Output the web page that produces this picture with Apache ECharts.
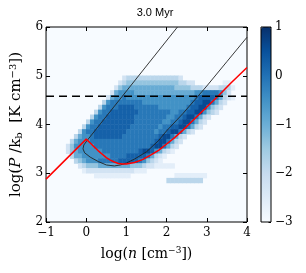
<!DOCTYPE html>
<html><head><meta charset="utf-8">
<script src="https://cdn.jsdelivr.net/npm/echarts@6/dist/echarts.min.js"></script>
<style>html,body{margin:0;padding:0;background:#fff}#c{width:306px;height:273px}</style>
</head><body><div id="c"></div>
<script>
// ---- data ----
const titleText = '3.0 Myr';
const xTicks = [-1, 0, 1, 2, 3, 4];
const yTicks = [2, 3, 4, 5, 6];
const cbTicks = [-3, -2, -1, 0, 1];
const xBinCount = 50;   // 0.1-wide bins in log n, from -1 to 4
const yBinCount = 40;   // 0.1-wide bins in log P/k, from 2 to 6
// colour level code -> log mass fraction value
const levelValues = [null, -2.6, -2.25, -1.85, -1.4, -0.95, -0.5, -0.1, 0.25, 0.6];
// [row index (y bin), first column (x bin), level codes]
const densityRows = [
  [29, 19, "2"+"3333333333333"+"2"],
  [28, 18, "2"+"3"+"4444444444444"+"33"+"22"],
  [28, 44, "11"],
  [27, 17, "2"+"4"+"5555555555555"+"4444"+"333"+"2222"+"333"+"1"],
  [26, 16, "2"+"5"+"6666"+"555555555555555"+"66"+"7777"+"6"+"4"+"2"],
  [25, 15, "2"+"5"+"667"+"6666666666"+"6666666"+"7"+"8888"+"7"+"5"+"3"+"2"+"1"],
  [24, 14, "3"+"6"+"777"+"77777"+"666666666666"+"7"+"88"+"99"+"7"+"5"+"3"+"2"],
  [23, 13, "3"+"6"+"777"+"8888"+"777777"+"6666666"+"7"+"88"+"99"+"6"+"4"+"3"+"2"],
  [22, 12, "3"+"6"+"77"+"8888888"+"77777777"+"66"+"77"+"88"+"99"+"6"+"4"+"3"+"2"],
  [21, 11, "3"+"6"+"77"+"8888888"+"77777777"+"66"+"77"+"8"+"99"+"7"+"5"+"3"+"2"],
  [20, 10, "3"+"6"+"77"+"88888888"+"7777777"+"66"+"77"+"8"+"99"+"7"+"5"+"3"+"2"],
  [19, 9,  "3"+"6"+"77"+"88888888"+"7777777"+"6"+"77"+"88"+"99"+"7"+"5"+"3"+"2"],
  [18, 8,  "3"+"6"+"77"+"88888888"+"7777777"+"6"+"77"+"8"+"99"+"7"+"5"+"3"+"2"],
  [17, 7,  "3"+"5"+"66"+"7"+"8888888"+"777777777"+"8"+"99"+"7"+"5"+"3"+"2"],
  [16, 6,  "3"+"5"+"66"+"6"+"7777777777777777"+"8"+"99"+"7"+"5"+"3"+"2"],
  [15, 5,  "2"+"4"+"66666"+"77777777777777"+"8"+"99"+"7"+"5"+"3"+"2"],
  [14, 5,  "2"+"4"+"5"+"666666"+"777777777"+"8"+"99"+"8"+"6"+"5"+"3"+"2"+"1"],
  [13, 6,  "3"+"5"+"5"+"6666666"+"7777"+"88888"+"7"+"5"+"3"+"2"+"1"],
  [12, 7,  "3"+"4"+"5"+"666"+"77777"+"88888"+"7"+"6"+"4"+"3"+"2"+"1"],
  [11, 8,  "2"+"3"+"444"+"55555555"+"444"+"3"+"2"+"2"+"11111"],
  [10, 9,  "1"+"222222222222"+"111"],
  [9, 12,  "111111111"],
  [9, 32,  "11111111"],
  [8, 30,  "333333333"]
];
// red curve (equilibrium pressure)
const redX = [-1, -0.5, 0, 0.1, 0.2, 0.3, 0.4, 0.5, 0.6, 0.7, 0.8, 0.9, 1.0, 1.2, 1.4, 1.6, 1.8, 2.0, 2.2, 2.4, 2.6, 2.8, 3.0, 3.3, 3.6, 4.0];
const redY = [2.88, 3.29, 3.70, 3.62, 3.54, 3.46, 3.39, 3.32, 3.27, 3.23, 3.20, 3.19, 3.19, 3.22, 3.28, 3.37, 3.47, 3.60, 3.73, 3.88, 4.04, 4.20, 4.36, 4.60, 4.85, 5.17];
// thin black curve
const blackX = [2.27, 0.02, -0.06, -0.08, -0.04, 0.1, 0.3, 0.5, 0.7, 0.85, 1.0, 1.2, 1.5, 1.8, 2.0, 2.4, 2.78, 3.0, 3.5, 4.0];
const blackY = [6.0, 3.67, 3.58, 3.50, 3.42, 3.33, 3.24, 3.17, 3.15, 3.17, 3.21, 3.29, 3.44, 3.67, 3.87, 4.22, 4.58, 4.79, 5.29, 5.79];
// horizontal dashed level
const dashX = [-1, 4];
const dashY = [4.58, 4.58];

// ---- build ----
const BLUES = ['#f7fbff','#deebf7','#c6dbef','#9ecae1','#6baed6','#4292c6','#2171b5','#08519c','#08306b'];
const SERIF = 'DejaVu Serif';
const heatData = [];
densityRows.forEach(([row, start, lv]) => {
  for (let k = 0; k < lv.length; k++) {
    const ch = lv[k];
    if (ch !== '.') heatData.push([start + k, row, levelValues[+ch]]);
  }
});
const xCats = Array.from({length: xBinCount}, (_, i) => String(i));
const yCats = Array.from({length: yBinCount}, (_, i) => String(i));
const pair = (xs, ys) => xs.map((x, i) => [x, ys[i]]);
const fmt = v => (v < 0 ? '\u2212' + Math.abs(v) : String(v));
const tick = {inside: true, length: 4, lineStyle: {color: '#000', width: 1}};
const noLine = {show: false, onZero: false};
const lbl = {fontFamily: SERIF, fontSize: 12, color: '#000', formatter: fmt};

const chart = echarts.init(document.getElementById('c'));
chart.setOption({
  animation: false,
  graphic: [{
    type: 'text', x: 155, y: 13, z: 10,
    style: {text: titleText, textAlign: 'center', textVerticalAlign: 'middle',
            font: '11px "Liberation Sans"', fill: '#000'}
  }],
  grid: [
    {left: 45, top: 27, width: 202, height: 195, show: true, backgroundColor: BLUES[0],
     borderColor: '#000', borderWidth: 1},
    {left: 261, top: 27, width: 10, height: 195, show: true, backgroundColor: 'transparent',
     borderColor: '#000', borderWidth: 1, z: 10}
  ],
  xAxis: [
    {gridIndex: 0, type: 'category', data: xCats, show: false, boundaryGap: true},
    {gridIndex: 0, type: 'value', min: xTicks[0], max: xTicks[xTicks.length-1], interval: 1,
     position: 'bottom', axisLine: noLine, axisTick: tick, splitLine: {show: false},
     axisLabel: Object.assign({margin: 5}, lbl),
     name: 'log({n|n} [cm{sup|\u22123}])', nameLocation: 'middle', nameGap: 24,
     nameTextStyle: {fontFamily: SERIF, fontSize: 14, color: '#000',
       rich: {n: {fontFamily: SERIF, fontSize: 14, fontStyle: 'italic', color: '#000'},
              sup: {fontFamily: SERIF, fontSize: 9, color: '#000', padding: [0, 0, 7, 0]}}}},
    {gridIndex: 0, type: 'value', min: xTicks[0], max: xTicks[xTicks.length-1], interval: 1,
     position: 'top', axisLine: noLine, axisTick: tick, axisLabel: {show: false}, splitLine: {show: false}},
    {gridIndex: 1, type: 'value', min: 0, max: 1, show: false}
  ],
  yAxis: [
    {gridIndex: 0, type: 'category', data: yCats, show: false, boundaryGap: true},
    {gridIndex: 0, type: 'value', min: yTicks[0], max: yTicks[yTicks.length-1], interval: 1,
     position: 'left', axisLine: noLine, axisTick: tick, splitLine: {show: false},
     axisLabel: Object.assign({margin: 3}, lbl),
     name: 'log({p|P} /k{sub|b}  [K cm{sup|\u22123}])', nameLocation: 'middle', nameGap: 19, nameRotate: 90,
     nameTextStyle: {fontFamily: SERIF, fontSize: 15, color: '#000',
       rich: {p: {fontFamily: SERIF, fontSize: 15, fontStyle: 'italic', color: '#000'},
              sub: {fontFamily: SERIF, fontSize: 10, color: '#000', padding: [6, 0, 0, 0]},
              sup: {fontFamily: SERIF, fontSize: 10, color: '#000', padding: [0, 0, 7, 0]}}}},
    {gridIndex: 0, type: 'value', min: yTicks[0], max: yTicks[yTicks.length-1], interval: 1,
     position: 'right', axisLine: noLine, axisTick: tick, axisLabel: {show: false}, splitLine: {show: false}},
    {gridIndex: 1, type: 'value', min: cbTicks[0], max: cbTicks[cbTicks.length-1], interval: 1,
     position: 'right', axisLine: noLine, splitLine: {show: false},
     axisTick: {inside: true, length: 2.5, lineStyle: {color: '#000', width: 1}},
     axisLabel: Object.assign({margin: 4}, lbl)}
  ],
  visualMap: {
    type: 'continuous', min: cbTicks[0], max: cbTicks[cbTicks.length-1], seriesIndex: 0,
    calculable: false, show: true, orient: 'vertical', left: 261, top: 27, padding: 0,
    itemWidth: 10, itemHeight: 195, text: null, inRange: {color: BLUES}
  },
  series: [
    {type: 'heatmap', xAxisIndex: 0, yAxisIndex: 0, data: heatData, progressive: 0,
     emphasis: {disabled: true}},
    {type: 'line', xAxisIndex: 1, yAxisIndex: 1, data: pair(blackX, blackY), symbol: 'none',
     lineStyle: {color: '#222', width: 0.9}, z: 3},
    {type: 'line', xAxisIndex: 1, yAxisIndex: 1, data: pair(redX, redY), symbol: 'none',
     lineStyle: {color: '#ff0000', width: 1.5}, z: 4},
    {type: 'line', xAxisIndex: 1, yAxisIndex: 1, data: pair(dashX, dashY), symbol: 'none',
     lineStyle: {color: '#000', width: 1.5, type: [8, 5]}, z: 4}
  ]
});
</script></body></html>
